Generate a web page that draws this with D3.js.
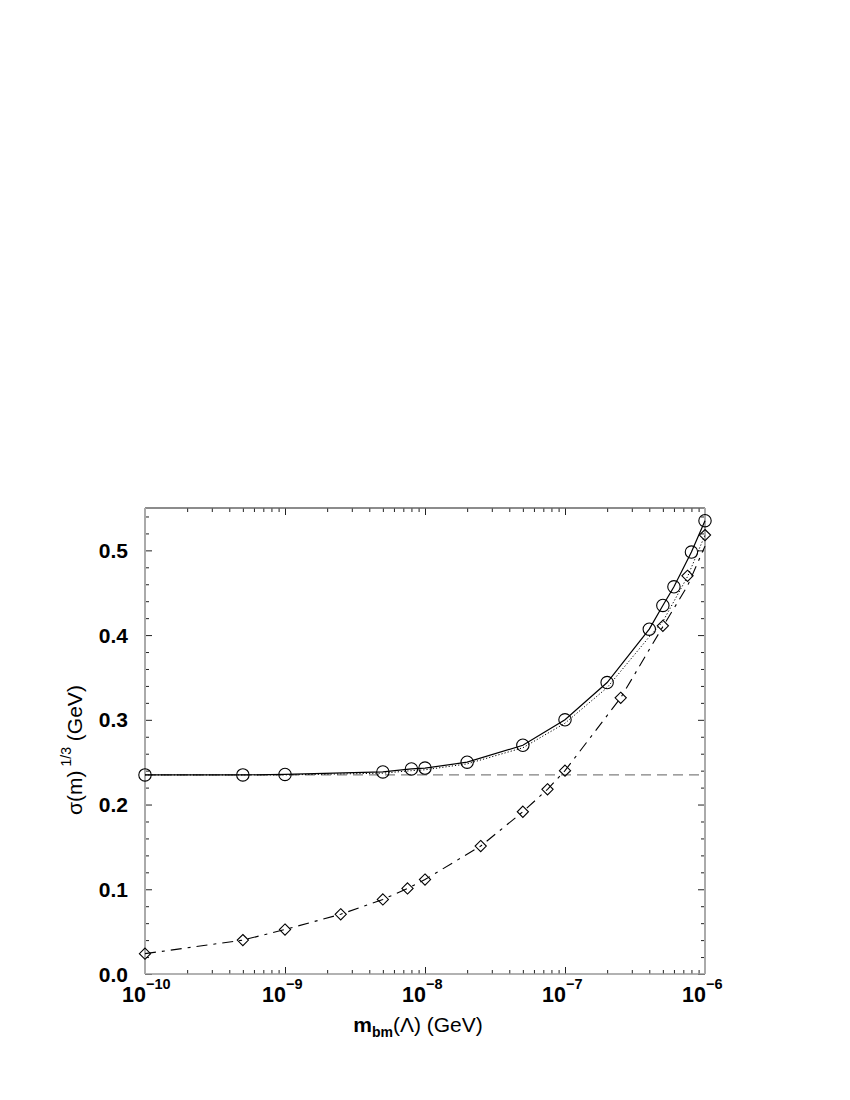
<!DOCTYPE html>
<html>
<head>
<meta charset="utf-8">
<script src="https://cdn.jsdelivr.net/npm/d3@7/dist/d3.min.js"></script>
<style>
  html, body { margin: 0; padding: 0; background: #fff; }
  svg { display: block; }
</style>
</head>
<body>
<svg id="chart" width="850" height="1100"></svg>
<script>
// ---- data ----
const circleX  = [1e-10, 5e-10, 1e-9, 5e-9, 8e-9, 1e-8, 2e-8, 5e-8, 1e-7, 2e-7, 4e-7, 5e-7, 6e-7, 8e-7, 1e-6];
const circleY  = [0.235, 0.235, 0.2355, 0.2385, 0.242, 0.243, 0.250, 0.270, 0.300, 0.344, 0.407, 0.435, 0.457, 0.498, 0.535];

const dottedX  = [1e-10, 5e-10, 1e-9, 5e-9, 8e-9, 1e-8, 2e-8, 5e-8, 1e-7, 2e-7, 4e-7, 5e-7, 7.5e-7, 1e-6];
const dottedY  = [0.235, 0.235, 0.235, 0.237, 0.240, 0.241, 0.248, 0.267, 0.296, 0.338, 0.398, 0.416, 0.469, 0.518];

const diamondX = [1e-10, 5e-10, 1e-9, 2.5e-9, 5e-9, 7.5e-9, 1e-8, 2.5e-8, 5e-8, 7.5e-8, 1e-7, 2.5e-7, 5e-7, 7.5e-7, 1e-6];
const diamondY = [0.024, 0.040, 0.0525, 0.0705, 0.088, 0.101, 0.1115, 0.151, 0.1915, 0.218, 0.240, 0.326, 0.411, 0.470, 0.518];

const dashDotX = [1e-10, 5e-10, 1e-9, 2.5e-9, 5e-9, 7.5e-9, 1e-8, 2.5e-8, 5e-8, 7.5e-8, 1e-7, 2.5e-7, 5e-7, 7.5e-7, 1e-6];
const dashDotY = [0.024, 0.040, 0.0525, 0.0705, 0.088, 0.101, 0.1115, 0.151, 0.1915, 0.218, 0.240, 0.326, 0.410, 0.458, 0.505];

const refX = [1e-10, 1e-6];
const refY = [0.235, 0.235];

const xTickValues = [1e-10, 1e-9, 1e-8, 1e-7, 1e-6];
const xTickExponents = ["\u221210", "\u22129", "\u22128", "\u22127", "\u22126"];
const yTickValues = [0.0, 0.1, 0.2, 0.3, 0.4, 0.5];
const yTickLabels = ["0.0", "0.1", "0.2", "0.3", "0.4", "0.5"];

// ---- layout ----
const L = 145, R = 705, T = 508, B = 974;
const svg = d3.select("#chart");
const x = d3.scaleLog().domain([1e-10, 1e-6]).range([L, R]);
const y = d3.scaleLinear().domain([0, 0.55]).range([B, T]);

const xMinor = [];
for (let k = -10; k <= -7; k++) for (let m = 2; m <= 9; m++) xMinor.push(m * Math.pow(10, k));
const yMinor = [];
for (let i = 1; i <= 27; i++) if (i % 5 !== 0) yMinor.push(i * 0.02);

function styleAxis(g) {
  g.select(".domain").remove();
  g.selectAll(".tick line").attr("stroke", "#222").attr("stroke-width", 1);
  g.selectAll(".tick text").remove();
}
// bottom
svg.append("g").attr("transform", `translate(0,${B})`)
  .call(d3.axisBottom(x).tickValues(xTickValues).tickSize(-7).tickFormat("")).call(styleAxis);
svg.append("g").attr("transform", `translate(0,${B})`)
  .call(d3.axisBottom(x).tickValues(xMinor).tickSize(-4).tickFormat("")).call(styleAxis);
// top
svg.append("g").attr("transform", `translate(0,${T})`)
  .call(d3.axisTop(x).tickValues(xTickValues).tickSize(-7).tickFormat("")).call(styleAxis);
svg.append("g").attr("transform", `translate(0,${T})`)
  .call(d3.axisTop(x).tickValues(xMinor).tickSize(-4).tickFormat("")).call(styleAxis);
// left
svg.append("g").attr("transform", `translate(${L},0)`)
  .call(d3.axisLeft(y).tickValues(yTickValues).tickSize(-7).tickFormat("")).call(styleAxis);
svg.append("g").attr("transform", `translate(${L},0)`)
  .call(d3.axisLeft(y).tickValues(yMinor).tickSize(-4).tickFormat("")).call(styleAxis);
// right
svg.append("g").attr("transform", `translate(${R},0)`)
  .call(d3.axisRight(y).tickValues(yTickValues).tickSize(-7).tickFormat("")).call(styleAxis);
svg.append("g").attr("transform", `translate(${R},0)`)
  .call(d3.axisRight(y).tickValues(yMinor).tickSize(-4).tickFormat("")).call(styleAxis);

// frame
svg.append("line").attr("x1", L).attr("x2", R).attr("y1", T).attr("y2", T).attr("stroke", "#666").attr("stroke-width", 1.3);
svg.append("line").attr("x1", L).attr("x2", R).attr("y1", B).attr("y2", B).attr("stroke", "#999").attr("stroke-width", 1.6);
svg.append("line").attr("x1", L).attr("x2", L).attr("y1", T).attr("y2", B).attr("stroke", "#aaa").attr("stroke-width", 2);
svg.append("line").attr("x1", R).attr("x2", R).attr("y1", T).attr("y2", B).attr("stroke", "#aaa").attr("stroke-width", 2);

const font = "'Liberation Sans', Arial, Helvetica, sans-serif";

// y tick labels
svg.append("g").selectAll("text").data(yTickValues).join("text")
  .attr("x", L - 17).attr("y", d => y(d) + 7.5)
  .attr("text-anchor", "end")
  .attr("font-family", font).attr("font-weight", "bold").attr("font-size", 21)
  .attr("fill", "#000")
  .text((d, i) => yTickLabels[i]);

// x tick labels: 10^exp
xTickValues.forEach((v, i) => {
  const t = svg.append("text")
    .attr("y", B + 28)
    .attr("font-family", font).attr("font-weight", "bold").attr("fill", "#000");
  t.append("tspan").attr("font-size", 21.5).text("10");
  t.append("tspan").attr("font-size", 14.5).attr("dy", -13).text(xTickExponents[i]);
  const w = t.node().getSubStringLength(0, 2);
  t.attr("x", x(v) - w + 1);
});

// series
const lineGen = d3.line().x(d => x(d[0])).y(d => y(d[1]));
const zip = (a, b) => a.map((v, i) => [v, b[i]]);

svg.append("path").datum(zip(refX, refY)).attr("d", lineGen)
  .attr("fill", "none").attr("stroke", "#808080").attr("stroke-width", 1.1).attr("stroke-dasharray", "10,6");

svg.append("path").datum(zip(dashDotX, dashDotY)).attr("d", lineGen)
  .attr("fill", "none").attr("stroke", "#000").attr("stroke-width", 1.1).attr("stroke-dasharray", "11,6,3,6");

svg.append("path").datum(zip(dottedX, dottedY)).attr("d", lineGen)
  .attr("fill", "none").attr("stroke", "#000").attr("stroke-width", 1).attr("stroke-dasharray", "1.2,2");

svg.append("path").datum(zip(circleX, circleY)).attr("d", lineGen)
  .attr("fill", "none").attr("stroke", "#000").attr("stroke-width", 1.2);

svg.append("g").selectAll("circle").data(zip(circleX, circleY)).join("circle")
  .attr("cx", d => x(d[0])).attr("cy", d => y(d[1])).attr("r", 6.2)
  .attr("fill", "none").attr("stroke", "#000").attr("stroke-width", 1.1);

const ds = 5.6;
svg.append("g").selectAll("path").data(zip(diamondX, diamondY)).join("path")
  .attr("d", d => {
    const cx = x(d[0]), cy = y(d[1]);
    return `M${cx},${cy - ds}L${cx + ds},${cy}L${cx},${cy + ds}L${cx - ds},${cy}Z`;
  })
  .attr("fill", "none").attr("stroke", "#000").attr("stroke-width", 1.1);

// x axis title
const xt = svg.append("text").attr("x", 418).attr("y", 1032).attr("text-anchor", "middle")
  .attr("font-family", font).attr("font-size", 21).attr("fill", "#000");
xt.append("tspan").attr("font-weight", "bold").text("m");
xt.append("tspan").attr("font-weight", "bold").attr("font-size", 14).attr("dy", 5).text("bm");
xt.append("tspan").attr("dy", -5).text("(\u039B) (GeV)");

// y axis title
const yt = svg.append("text").attr("transform", "translate(82,750) rotate(-90)")
  .attr("text-anchor", "middle")
  .attr("font-family", font).attr("font-size", 21).attr("fill", "#000");
yt.append("tspan").text("\u03C3(m)");
yt.append("tspan").attr("font-size", 14).attr("dy", -11).attr("dx", 4).text("1/3");
yt.append("tspan").attr("dy", 11).text("  (GeV)");
</script>
</body>
</html>
